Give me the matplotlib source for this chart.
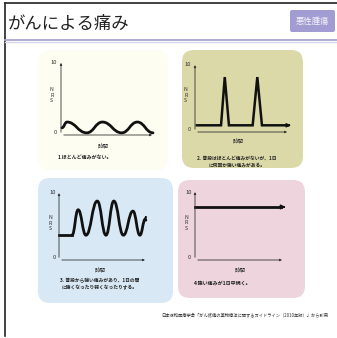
import matplotlib
matplotlib.use("Agg")
import matplotlib.pyplot as plt
from matplotlib.patches import FancyBboxPatch, PathPatch
from matplotlib.path import Path

plt.rcParams['font.family'] = ['Noto Sans CJK JP', 'DejaVu Sans']

title = "がんによる痛み"
badge = "悪性腫瘍"
footnote = "日本緩和医療学会「がん疼痛の薬物療法に関するガイドライン（2010年版）」から引用"
xlabel = "時間"
captions = [
    "1.ほとんど痛みがない。",
    "2. 普段はほとんど痛みがないが、1日\nに何回か強い痛みがある。",
    "3. 普段から強い痛みがあり、1日の間\nに強くなったり弱くなったりする。",
    "4.強い痛みが1日中続く。",
]

# curve key points (time 0-10, NRS 0-10)
p1_t = [0.1, 0.65, 2.8, 4.5, 6.6, 8.3, 10.0]
p1_v = [1.0, 1.8, 0.3, 1.8, 0.3, 1.8, 0.3]

p2_t = [0.2, 2.8, 3.2, 3.65, 6.2, 6.7, 7.2, 10.0]
p2_v = [1.0, 1.0, 8.2, 1.0, 1.0, 8.2, 1.0, 1.0]

p3_flat_t = [0.0, 1.5]
p3_flat_v = [3.7, 3.7]
p3_t = [1.5, 2.2, 3.1, 4.4, 5.4, 6.3, 7.4, 8.5, 9.3, 9.9]
p3_v = [3.7, 7.5, 3.7, 8.8, 3.7, 8.8, 3.7, 7.3, 3.7, 6.0]

p4_t = [0.0, 9.8]
p4_v = [7.8, 7.8]

W, H = 337, 338
fig = plt.figure(figsize=(W / 100, H / 100), dpi=100)
bg = fig.add_axes([0, 0, 1, 1])
bg.set_xlim(0, W)
bg.set_ylim(H, 0)
bg.axis('off')

# frame and header
bg.plot([5, 5], [3, 336], color='#222222', lw=1.2)
bg.plot([5, W], [3, 3], color='#222222', lw=1.2)
bg.plot([5, W], [39.5, 39.5], color='#a9a7d6', lw=1.3)
bg.plot([5, W], [41.5, 41.5], color='#d8d7ee', lw=1.0)
bg.text(8, 24, title, fontsize=12.5, color='#222222', va='center', ha='left')
bg.add_patch(FancyBboxPatch((290, 10), 45, 22, boxstyle='round,pad=0,rounding_size=2',
                            fc='#a19dd2', ec='none'))
bg.text(312.5, 21, badge, fontsize=6, color='#f4f3fb', ha='center', va='center')

# panel backgrounds
panels = [
    ((38, 50, 130, 120), '#fefdf2'),
    ((182, 50, 121, 118), '#dcd9a9'),
    ((38, 178, 135, 125), '#d8e8f5'),
    ((178, 180, 127, 118), '#edd4dd'),
]
for (x, y, w, h), c in panels:
    bg.add_patch(FancyBboxPatch((x, y), w, h, boxstyle='round,pad=0,rounding_size=12',
                                fc=c, ec='none'))

bg.text(245, 315, footnote, fontsize=3.1, color='#333333', ha='center', va='center')

# chart axes bounds in pixels: x0, x1, ytop, ybottom
boxes = [(61, 153, 63, 135), (195, 288, 65, 132), (59, 146, 193, 260), (195, 283, 192, 260)]
label_pos = [(103, 145), (238, 140), (100, 269), (240, 269)]
cap_pos = [(85, 157), (237, 161.5), (100, 284), (223, 283)]


def make_ax(b):
    x0, x1, yt, yb = b
    ax = fig.add_axes([x0 / W, 1 - yb / H, (x1 - x0) / W, (yb - yt) / H])
    ax.set_xlim(0, 10)
    ax.set_ylim(0, 10)
    ax.axis('off')
    ax.patch.set_alpha(0)
    ax.annotate('', xy=(0, 10.4), xytext=(0, 0), annotation_clip=False,
                arrowprops=dict(arrowstyle='-|>', lw=0.6, color='#333333', mutation_scale=3))
    ax.annotate('', xy=(10.2, 0), xytext=(0, 0), annotation_clip=False,
                arrowprops=dict(arrowstyle='-|>', lw=0.6, color='#333333', mutation_scale=3))
    ax.text(-0.4, 10, "10", fontsize=4.2, ha='right', va='center', color='#333333')
    ax.text(-0.4, 0.3, "0", fontsize=4.2, ha='right', va='center', color='#333333')
    ax.text(-1.0, 5.5, "N\nR\nS", fontsize=3.8, ha='center', va='center',
            color='#333333', linespacing=1.1)
    return ax


def smooth(ax, ts, vs):
    verts = [(ts[0], vs[0])]
    codes = [Path.MOVETO]
    for i in range(len(ts) - 1):
        dx = ts[i + 1] - ts[i]
        verts += [(ts[i] + 0.45 * dx, vs[i]), (ts[i + 1] - 0.45 * dx, vs[i + 1]), (ts[i + 1], vs[i + 1])]
        codes += [Path.CURVE4] * 3
    ax.add_patch(PathPatch(Path(verts, codes), fc='none', ec='#111111', lw=2.0,
                           capstyle='round', joinstyle='round', clip_on=False))


axes = [make_ax(b) for b in boxes]
for i in range(4):
    bg.text(*label_pos[i], xlabel, fontsize=4.0, ha='center', va='center', color='#333333')
    bg.text(*cap_pos[i], captions[i], fontsize=3.6 if i in (0, 3) else 3.4,
            ha='center', va='center', color='#222222', fontweight='bold', linespacing=1.5)

smooth(axes[0], p1_t, p1_v)

axes[1].plot(p2_t, p2_v, color='#111111', lw=1.8, clip_on=False, solid_joinstyle='miter')
axes[1].annotate('', xy=(p2_t[-1] + 0.3, p2_v[-1]), xytext=(p2_t[-1] - 0.2, p2_v[-1]),
                 annotation_clip=False,
                 arrowprops=dict(arrowstyle='-|>', lw=1.2, color='#111111', mutation_scale=5))

axes[2].plot(p3_flat_t, p3_flat_v, color='#111111', lw=2.0, clip_on=False)
smooth(axes[2], p3_t, p3_v)
axes[2].annotate('', xy=(p3_t[-1] + 0.1, p3_v[-1] + 0.6), xytext=(p3_t[-1], p3_v[-1]),
                 annotation_clip=False,
                 arrowprops=dict(arrowstyle='-|>', lw=1.2, color='#111111', mutation_scale=5))

axes[3].plot(p4_t, p4_v, color='#111111', lw=2.0, clip_on=False)
axes[3].annotate('', xy=(p4_t[-1] + 0.5, p4_v[-1]), xytext=(p4_t[-1] - 0.1, p4_v[-1]),
                 annotation_clip=False,
                 arrowprops=dict(arrowstyle='-|>', lw=1.2, color='#111111', mutation_scale=6))

fig.savefig("out.png", dpi=100)
